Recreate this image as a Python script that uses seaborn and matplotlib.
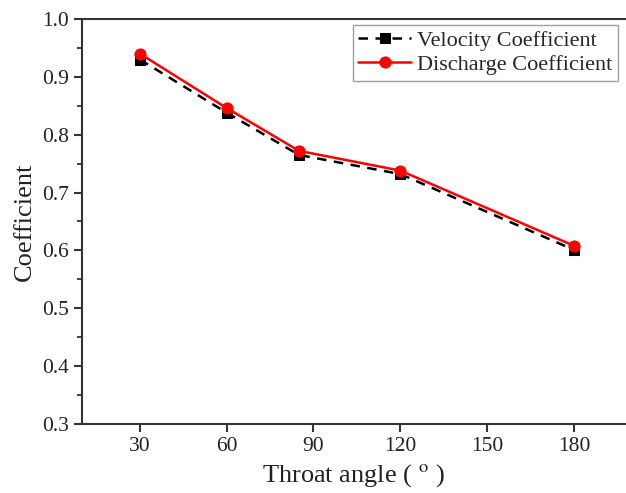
import matplotlib
matplotlib.use("Agg")
import matplotlib.pyplot as plt
import seaborn as sns
import pandas as pd
from matplotlib.ticker import MultipleLocator

angles = [30, 60, 85, 120, 180]
velocity = [0.930, 0.838, 0.765, 0.732, 0.601]
discharge = [0.940, 0.846, 0.772, 0.738, 0.608]

sns.set_theme(style="ticks")
plt.rcParams['font.family'] = ['Liberation Serif', 'DejaVu Serif']
plt.rcParams['mathtext.fontset'] = 'stix'

df = pd.DataFrame({"angle": angles, "Velocity Coefficient": velocity,
                   "Discharge Coefficient": discharge})

fig = plt.figure(figsize=(6.26, 4.93), dpi=100)
ax = fig.add_axes([82/626, 1-424/493, 1-82/626, (424-19)/493])

sns.lineplot(data=df, x="angle", y="Velocity Coefficient", ax=ax, color="black",
             marker="s", markersize=7, linewidth=1.8, markeredgecolor="black",
             label="Velocity Coefficient")
ax.lines[-1].set_dashes([3.8, 3.0])
sns.lineplot(data=df, x="angle", y="Discharge Coefficient", ax=ax, color="red",
             marker="o", markersize=8, linewidth=1.8, markeredgecolor="red",
             label="Discharge Coefficient")

ax.set_xlim(10, 198)
ax.set_ylim(0.3, 1.0)
ax.set_xticks([30, 60, 90, 120, 150, 180])
ax.yaxis.set_major_locator(MultipleLocator(0.1))
ax.yaxis.set_minor_locator(MultipleLocator(0.05))
ax.yaxis.set_major_formatter(matplotlib.ticker.FormatStrFormatter('%.1f'))
ax.tick_params(axis='both', which='major', direction='out', length=6, width=1.5,
               labelsize=15.5, colors='#333333', labelcolor='#222222')
ax.tick_params(axis='y', which='minor', direction='out', length=3.5, width=1.3,
               colors='#333333')
for s in ['left', 'bottom', 'top']:
    ax.spines[s].set_linewidth(1.5)
    ax.spines[s].set_color('#333333')
ax.spines['right'].set_visible(False)

ax.set_xlabel("Throat angle ( $^{\\mathrm{o}}$ )", fontsize=19, color='#222222')
ax.set_ylabel("Coefficient", fontsize=19, color='#222222')

leg = ax.legend(loc='upper right', bbox_to_anchor=(0.985, 0.985), fontsize=16,
                frameon=True, fancybox=False, edgecolor='#888888',
                handlelength=2.4, handletextpad=0.25, borderpad=0.25,
                labelspacing=0.15, borderaxespad=0.0)
leg.get_frame().set_linewidth(1.0)

fig.savefig("out.png", dpi=100)
